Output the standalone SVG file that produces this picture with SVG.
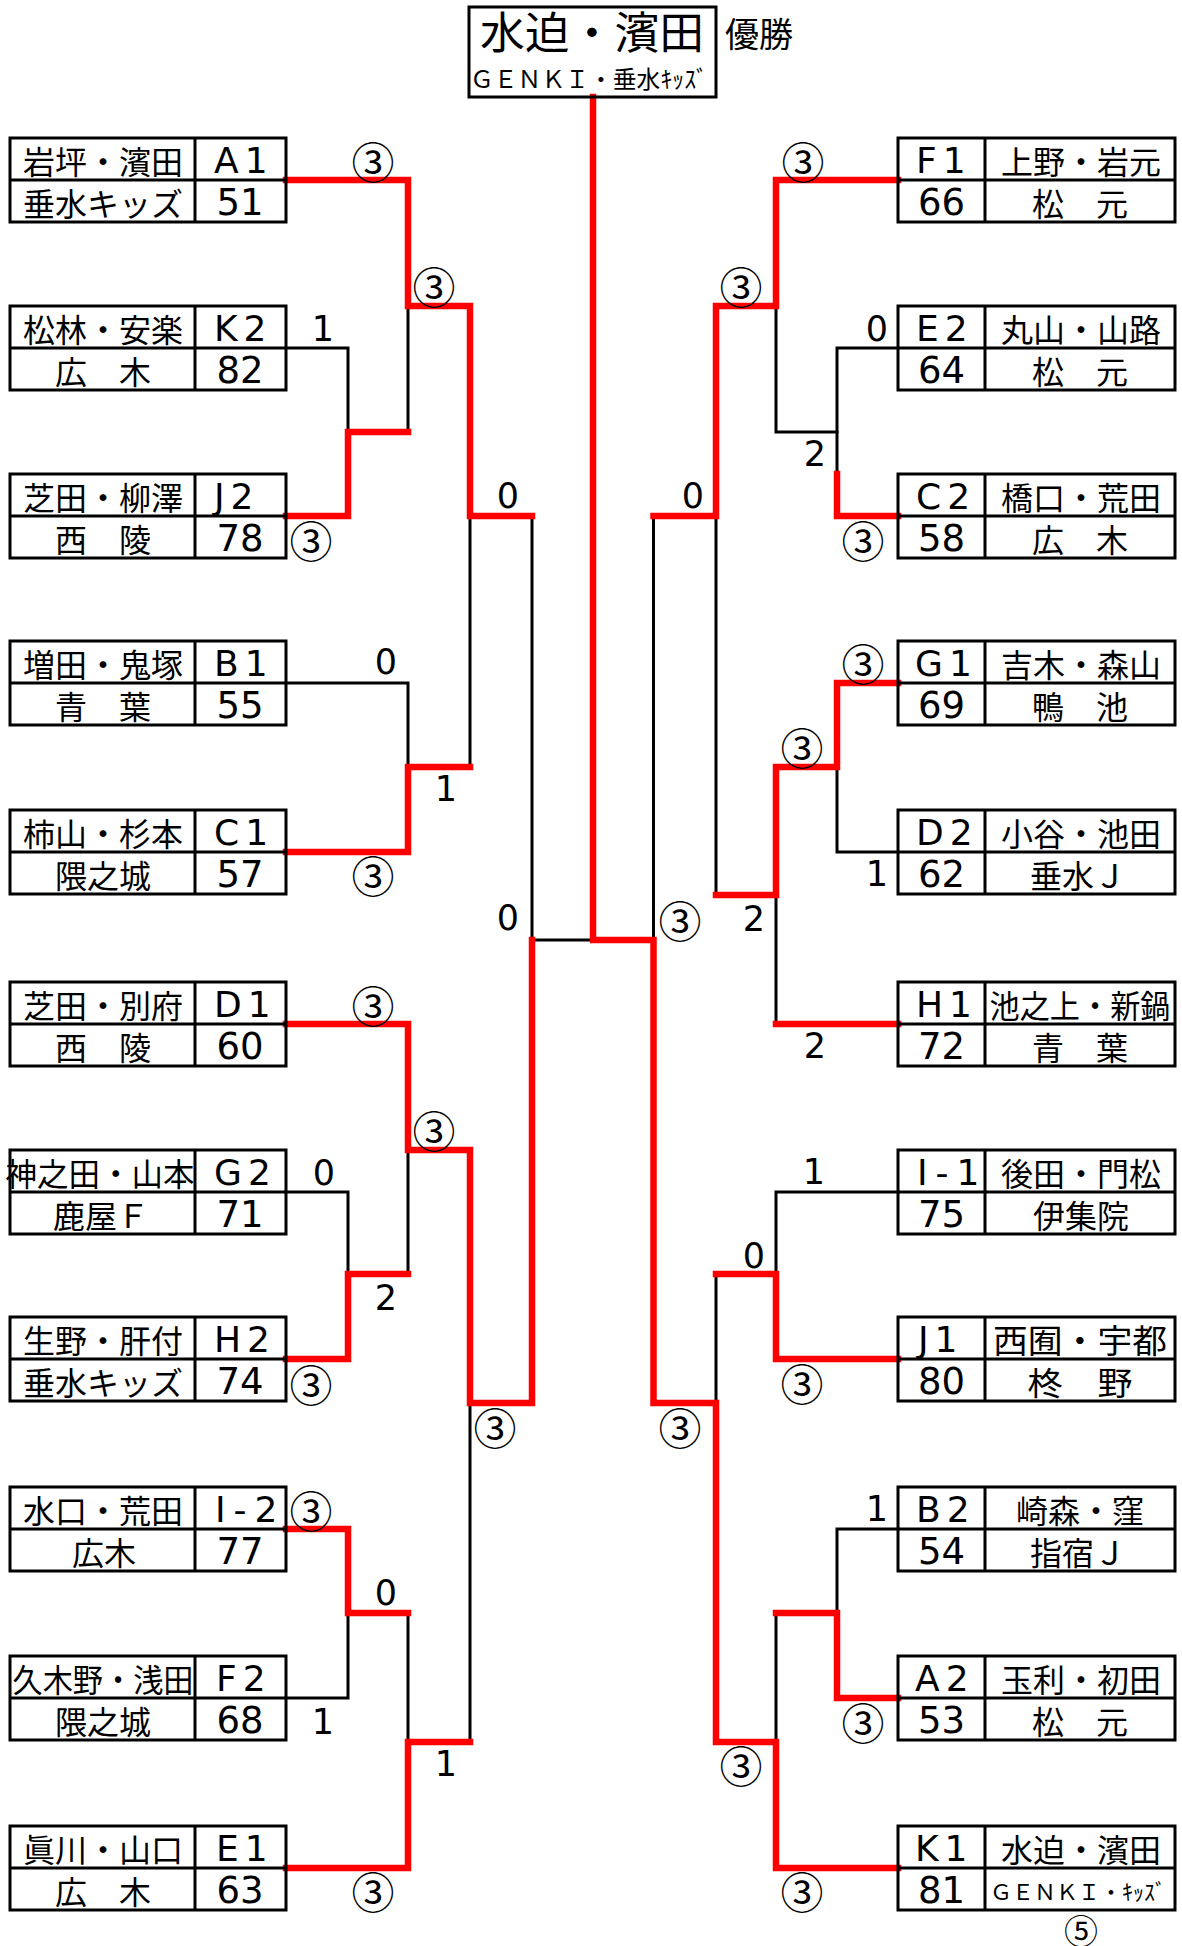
<svg xmlns="http://www.w3.org/2000/svg" width="1182" height="1946" viewBox="0 0 1182 1946">
<style>
.bx{fill:none;stroke:#000;stroke-width:3}
.k{fill:none;stroke:#000;stroke-width:3;stroke-linecap:square}
.r{fill:none;stroke:#f00;stroke-width:6.5;stroke-linecap:square;stroke-linejoin:miter}
text{fill:#000}
.nm{font-family:"Noto Sans CJK JP","Noto Sans CJK SC",sans-serif;font-size:32px;text-anchor:middle;dominant-baseline:central}
.num{font-family:"DejaVu Sans",sans-serif;font-size:37px;text-anchor:middle;dominant-baseline:central}
.cd{font-family:"DejaVu Sans",sans-serif;font-size:36px;letter-spacing:6px;dominant-baseline:central}
.sc{font-family:"DejaVu Sans",sans-serif;font-size:35px;text-anchor:middle;dominant-baseline:central}
.ci{font-family:"Noto Sans CJK JP",sans-serif;font-size:43px;text-anchor:middle;dominant-baseline:central}
</style>
<rect width="1182" height="1946" fill="#fff"/>

<g id="connectors">
<g id="lines-black">
<path class="k" d="M286,348H348V432"/>
<path class="k" d="M408,306V432"/>
<path class="k" d="M470,516V767"/>
<path class="k" d="M286,683H408V767"/>
<path class="k" d="M532,516V940H593"/>
<path class="k" d="M286,1192H348V1274"/>
<path class="k" d="M408,1150V1274"/>
<path class="k" d="M470,1403V1742"/>
<path class="k" d="M286,1698H348V1613"/>
<path class="k" d="M408,1613V1742"/>
<path class="k" d="M898,348H837V474"/>
<path class="k" d="M776,306V432H837"/>
<path class="k" d="M716,516V895"/>
<path class="k" d="M837,767V852H898"/>
<path class="k" d="M776,895V1024"/>
<path class="k" d="M653.5,516V940"/>
<path class="k" d="M898,1192H776V1274"/>
<path class="k" d="M716,1274V1403"/>
<path class="k" d="M898,1529H837V1613"/>
<path class="k" d="M776,1613V1742"/>
</g>
<g id="lines-red">
<path class="r" d="M286,180H408V306H470V516H532"/>
<path class="r" d="M286,516H348V432H408"/>
<path class="r" d="M286,852H408V767H470"/>
<path class="r" d="M286,1024H408V1150H470V1403H532V940"/>
<path class="r" d="M286,1359H348V1274H408"/>
<path class="r" d="M286,1529H348V1613H408"/>
<path class="r" d="M286,1868H408V1742H470"/>
<path class="r" d="M898,180H776V306H716V516H653.5"/>
<path class="r" d="M898,516H837V474"/>
<path class="r" d="M898,683H837V767H776V895H716"/>
<path class="r" d="M898,1024H776"/>
<path class="r" d="M593,97V940H653.5V1403H716V1742H776V1868H898"/>
<path class="r" d="M898,1359H776V1274H716"/>
<path class="r" d="M898,1698H837V1613H776"/>
</g>
<g id="scores">
<text class="ci" x="373" y="160">③</text>
<text class="ci" x="434" y="285">③</text>
<text class="sc" x="323" y="329">1</text>
<text class="sc" x="508" y="496">0</text>
<text class="ci" x="311" y="539">③</text>
<text class="sc" x="386" y="662">0</text>
<text class="sc" x="446" y="789">1</text>
<text class="ci" x="373" y="874">③</text>
<text class="sc" x="508" y="918">0</text>
<text class="ci" x="373" y="1004">③</text>
<text class="ci" x="434" y="1129">③</text>
<text class="sc" x="324" y="1173">0</text>
<text class="sc" x="386" y="1298">2</text>
<text class="ci" x="311" y="1383">③</text>
<text class="ci" x="495" y="1426">③</text>
<text class="ci" x="311" y="1509">③</text>
<text class="sc" x="386" y="1593">0</text>
<text class="sc" x="323" y="1722">1</text>
<text class="sc" x="446" y="1764">1</text>
<text class="ci" x="373" y="1890">③</text>
<text class="ci" x="803" y="160">③</text>
<text class="ci" x="741" y="285">③</text>
<text class="sc" x="877" y="329">0</text>
<text class="sc" x="815" y="454">2</text>
<text class="sc" x="693" y="496">0</text>
<text class="ci" x="863" y="539">③</text>
<text class="ci" x="863" y="662">③</text>
<text class="ci" x="802" y="746">③</text>
<text class="sc" x="877" y="874">1</text>
<text class="ci" x="680" y="919">③</text>
<text class="sc" x="754" y="919">2</text>
<text class="sc" x="815" y="1046">2</text>
<text class="sc" x="814" y="1172">1</text>
<text class="sc" x="754" y="1256">0</text>
<text class="ci" x="802" y="1382">③</text>
<text class="ci" x="680" y="1426">③</text>
<text class="sc" x="877" y="1509">1</text>
<text class="ci" x="863" y="1721">③</text>
<text class="ci" x="741" y="1764">③</text>
<text class="ci" x="802" y="1890">③</text>
<text class="ci" x="1081" y="1929" style="font-size:34px">⑤</text>
</g>
</g>

<g id="champion">
<rect class="bx" x="469" y="7" width="247" height="90"/>
<text class="nm" x="592" y="30" style="font-size:44px" textLength="224" lengthAdjust="spacingAndGlyphs">水迫・濱田</text>
<text class="nm" x="589" y="77" style="font-size:24px" textLength="238" lengthAdjust="spacingAndGlyphs">ＧＥＮＫＩ・垂水ｷｯｽﾞ</text>
<text class="nm" x="725" y="32" style="font-size:34px;text-anchor:start">優勝</text>
</g>

<g id="L-A1"><rect class="bx" x="10" y="138" width="276" height="84"/><path class="bx" d="M10,180H286M195,138V222"/><text class="nm" x="103" y="160">岩坪・濱田</text><text class="cd" x="214" y="160">A1</text><text class="nm" x="103" y="202">垂水キッズ</text><text class="num" x="240" y="202">51</text></g>
<g id="L-K2"><rect class="bx" x="10" y="306" width="276" height="84"/><path class="bx" d="M10,348H286M195,306V390"/><text class="nm" x="103" y="328">松林・安楽</text><text class="cd" x="214" y="328">K2</text><text class="nm" x="103" y="370">広　木</text><text class="num" x="240" y="370">82</text></g>
<g id="L-J2"><rect class="bx" x="10" y="474" width="276" height="84"/><path class="bx" d="M10,516H286M195,474V558"/><text class="nm" x="103" y="496">芝田・柳澤</text><text class="cd" x="214" y="496">J2</text><text class="nm" x="103" y="538">西　陵</text><text class="num" x="240" y="538">78</text></g>
<g id="L-B1"><rect class="bx" x="10" y="641" width="276" height="84"/><path class="bx" d="M10,683H286M195,641V725"/><text class="nm" x="103" y="663">増田・鬼塚</text><text class="cd" x="214" y="663">B1</text><text class="nm" x="103" y="705">青　葉</text><text class="num" x="240" y="705">55</text></g>
<g id="L-C1"><rect class="bx" x="10" y="810" width="276" height="84"/><path class="bx" d="M10,852H286M195,810V894"/><text class="nm" x="103" y="832">柿山・杉本</text><text class="cd" x="214" y="832">C1</text><text class="nm" x="103" y="874">隈之城</text><text class="num" x="240" y="874">57</text></g>
<g id="L-D1"><rect class="bx" x="10" y="982" width="276" height="84"/><path class="bx" d="M10,1024H286M195,982V1066"/><text class="nm" x="103" y="1004">芝田・別府</text><text class="cd" x="214" y="1004">D1</text><text class="nm" x="103" y="1046">西　陵</text><text class="num" x="240" y="1046">60</text></g>
<g id="L-G2"><rect class="bx" x="10" y="1150" width="276" height="84"/><path class="bx" d="M10,1192H286M195,1150V1234"/><text class="nm" x="100" y="1172" textLength="189" lengthAdjust="spacingAndGlyphs">神之田・山本</text><text class="cd" x="214" y="1172">G2</text><text class="nm" x="101" y="1214">鹿屋Ｆ</text><text class="num" x="240" y="1214">71</text></g>
<g id="L-H2"><rect class="bx" x="10" y="1317" width="276" height="84"/><path class="bx" d="M10,1359H286M195,1317V1401"/><text class="nm" x="103" y="1339">生野・肝付</text><text class="cd" x="214" y="1339">H2</text><text class="nm" x="103" y="1381">垂水キッズ</text><text class="num" x="240" y="1381">74</text></g>
<g id="L-I2"><rect class="bx" x="10" y="1487" width="276" height="84"/><path class="bx" d="M10,1529H286M195,1487V1571"/><text class="nm" x="103" y="1509">水口・荒田</text><text class="cd" x="215" y="1509" style="letter-spacing:8px">I-2</text><text class="nm" x="104" y="1551">広木</text><text class="num" x="240" y="1551">77</text></g>
<g id="L-F2"><rect class="bx" x="10" y="1656" width="276" height="84"/><path class="bx" d="M10,1698H286M195,1656V1740"/><text class="nm" x="103" y="1678" textLength="181" lengthAdjust="spacingAndGlyphs">久木野・浅田</text><text class="cd" x="216" y="1678">F2</text><text class="nm" x="103" y="1720">隈之城</text><text class="num" x="240" y="1720">68</text></g>
<g id="L-E1"><rect class="bx" x="10" y="1826" width="276" height="84"/><path class="bx" d="M10,1868H286M195,1826V1910"/><text class="nm" x="103" y="1848">眞川・山口</text><text class="cd" x="216" y="1848">E1</text><text class="nm" x="103" y="1890">広　木</text><text class="num" x="240" y="1890">63</text></g>

<g id="R-F1"><rect class="bx" x="898" y="138" width="277" height="84"/><path class="bx" d="M898,180H1175M985,138V222"/><text class="cd" x="916" y="160">F1</text><text class="nm" x="1081" y="160">上野・岩元</text><text class="num" x="941.5" y="202">66</text><text class="nm" x="1080" y="202">松　元</text></g>
<g id="R-E2"><rect class="bx" x="898" y="306" width="277" height="84"/><path class="bx" d="M898,348H1175M985,306V390"/><text class="cd" x="916" y="328">E2</text><text class="nm" x="1081" y="328">丸山・山路</text><text class="num" x="941.5" y="370">64</text><text class="nm" x="1080" y="370">松　元</text></g>
<g id="R-C2"><rect class="bx" x="898" y="474" width="277" height="84"/><path class="bx" d="M898,516H1175M985,474V558"/><text class="cd" x="916" y="496">C2</text><text class="nm" x="1081" y="496">橋口・荒田</text><text class="num" x="941.5" y="538">58</text><text class="nm" x="1080" y="538">広　木</text></g>
<g id="R-G1"><rect class="bx" x="898" y="641" width="277" height="84"/><path class="bx" d="M898,683H1175M985,641V725"/><text class="cd" x="915" y="663">G1</text><text class="nm" x="1081" y="663">吉木・森山</text><text class="num" x="941.5" y="705">69</text><text class="nm" x="1080" y="705">鴨　池</text></g>
<g id="R-D2"><rect class="bx" x="898" y="810" width="277" height="84"/><path class="bx" d="M898,852H1175M985,810V894"/><text class="cd" x="916" y="832">D2</text><text class="nm" x="1081" y="832">小谷・池田</text><text class="num" x="941.5" y="874">62</text><text class="nm" x="1078" y="874">垂水Ｊ</text></g>
<g id="R-H1"><rect class="bx" x="898" y="982" width="277" height="84"/><path class="bx" d="M898,1024H1175M985,982V1066"/><text class="cd" x="916" y="1004">H1</text><text class="nm" x="1080" y="1004" textLength="181" lengthAdjust="spacingAndGlyphs">池之上・新鍋</text><text class="num" x="941.5" y="1046">72</text><text class="nm" x="1080" y="1046">青　葉</text></g>
<g id="R-I1"><rect class="bx" x="898" y="1150" width="277" height="84"/><path class="bx" d="M898,1192H1175M985,1150V1234"/><text class="cd" x="917" y="1172" style="letter-spacing:8px">I-1</text><text class="nm" x="1081" y="1172">後田・門松</text><text class="num" x="941.5" y="1214">75</text><text class="nm" x="1081" y="1214">伊集院</text></g>
<g id="R-J1"><rect class="bx" x="898" y="1317" width="277" height="84"/><path class="bx" d="M898,1359H1175M985,1317V1401"/><text class="cd" x="918" y="1339">J1</text><text class="nm" x="1080" y="1339" style="font-size:33px" textLength="174" lengthAdjust="spacingAndGlyphs">西囿・宇都</text><text class="num" x="941.5" y="1381">80</text><text class="nm" x="1080" y="1381" style="font-size:32px" textLength="105" lengthAdjust="spacingAndGlyphs">柊　野</text></g>
<g id="R-B2"><rect class="bx" x="898" y="1487" width="277" height="84"/><path class="bx" d="M898,1529H1175M985,1487V1571"/><text class="cd" x="916" y="1509">B2</text><text class="nm" x="1080" y="1509">崎森・窪</text><text class="num" x="941.5" y="1551">54</text><text class="nm" x="1078" y="1551">指宿Ｊ</text></g>
<g id="R-A2"><rect class="bx" x="898" y="1656" width="277" height="84"/><path class="bx" d="M898,1698H1175M985,1656V1740"/><text class="cd" x="915" y="1678">A2</text><text class="nm" x="1081" y="1678">玉利・初田</text><text class="num" x="941.5" y="1720">53</text><text class="nm" x="1080" y="1720">松　元</text></g>
<g id="R-K1"><rect class="bx" x="898" y="1826" width="277" height="84"/><path class="bx" d="M898,1868H1175M985,1826V1910"/><text class="cd" x="915" y="1848">K1</text><text class="nm" x="1081" y="1848">水迫・濱田</text><text class="num" x="941.5" y="1890">81</text><text class="nm" x="1078" y="1890" style="font-size:22px" textLength="176" lengthAdjust="spacingAndGlyphs">ＧＥＮＫＩ・ｷｯｽﾞ</text></g>
</svg>
